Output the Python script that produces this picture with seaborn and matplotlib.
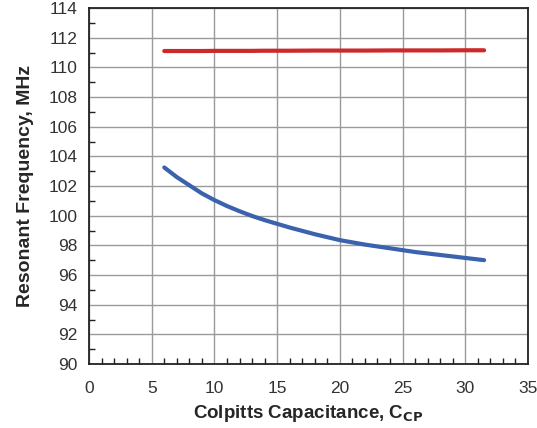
import matplotlib
matplotlib.use("Agg")
import matplotlib.pyplot as plt
import seaborn as sns
import pandas as pd
from matplotlib.ticker import MultipleLocator

cap = [6, 7, 8, 9, 10, 11, 12, 13, 14, 16, 18, 20, 22, 24, 26, 28, 30, 31.5]
f_blue = [103.25, 102.6, 102.05, 101.5, 101.05, 100.65, 100.3, 99.98, 99.7,
          99.2, 98.75, 98.35, 98.05, 97.8, 97.55, 97.35, 97.15, 97.0]
f_red = [111.1, 111.1, 111.1, 111.1, 111.11, 111.11, 111.11, 111.11, 111.12,
         111.12, 111.13, 111.13, 111.13, 111.14, 111.14, 111.14, 111.15, 111.15]

sns.set_style("white")
plt.rcParams['font.family'] = ['Liberation Sans', 'DejaVu Sans']

fig = plt.figure(figsize=(5.37, 4.28), dpi=100)
ax = fig.add_axes([89/537, 1 - 364/428, (528 - 89)/537, (364 - 8)/428])

df = pd.DataFrame({"cap": cap, "blue": f_blue, "red": f_red})
sns.lineplot(data=df, x="cap", y="red", ax=ax, color="#cc2a2a", linewidth=3)
sns.lineplot(data=df, x="cap", y="blue", ax=ax, color="#3a62ad", linewidth=3)

ax.set_xlim(0, 35)
ax.set_ylim(90, 114)
ax.xaxis.set_major_locator(MultipleLocator(5))
ax.xaxis.set_minor_locator(MultipleLocator(1))
ax.yaxis.set_major_locator(MultipleLocator(2))
ax.yaxis.set_minor_locator(MultipleLocator(1))
ax.grid(True, which="major", color="#9a9a9a", linewidth=1.0)
ax.set_axisbelow(True)
for s in ax.spines.values():
    s.set_color("#222222")
    s.set_linewidth(1.3)

ax.tick_params(axis="y", which="major", direction="inout", length=8, width=1.2, color="#222222", labelsize=12.5, pad=4)
ax.tick_params(axis="y", which="minor", direction="in", length=4, width=1.0, color="#222222", left=True)
ax.tick_params(axis="x", which="major", direction="in", length=0, labelsize=12.5, pad=12)
ax.tick_params(axis="x", which="minor", direction="in", length=4, width=1.0, color="#222222", bottom=True)
for lab in ax.get_xticklabels() + ax.get_yticklabels():
    lab.set_color("#333333")

ax.set_xlabel(r"Colpitts Capacitance, C$_{\mathbf{CP}}$", fontsize=13.5, fontweight="bold", labelpad=5)
ax.set_ylabel("Resonant Frequency, MHz", fontsize=14, fontweight="bold", labelpad=11)

fig.savefig("out.png", dpi=100)
